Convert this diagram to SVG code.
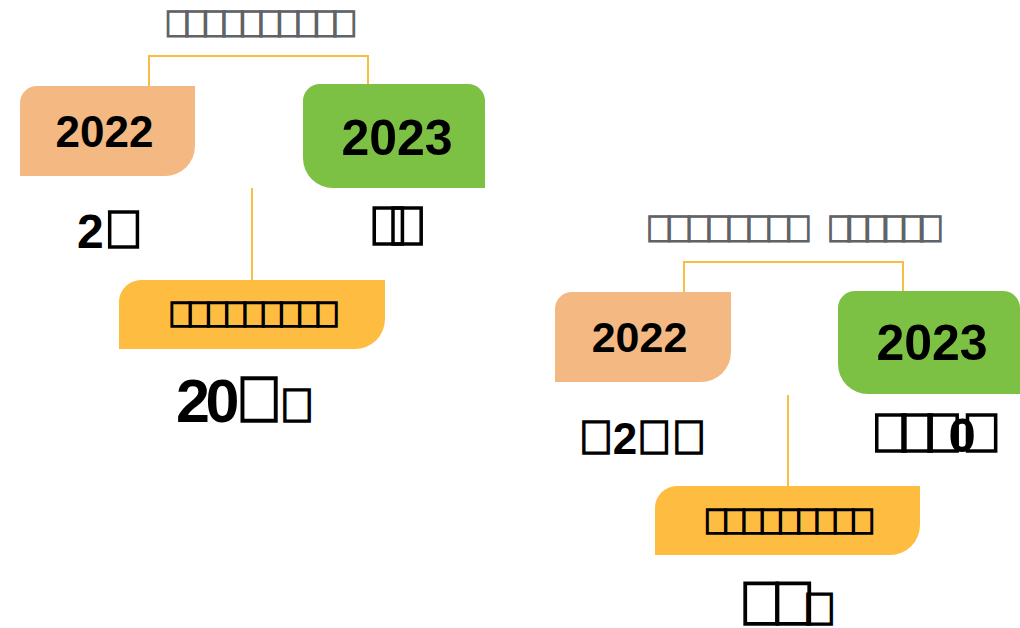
<svg xmlns="http://www.w3.org/2000/svg" width="1020" height="628" viewBox="0 0 1020 628">
<style>
.conn{fill:none;stroke:#FBBC42;stroke-width:2}
.t{font-family:"Liberation Sans",sans-serif;font-weight:bold;text-anchor:middle;fill:#000}
.title{fill:#5F6366;stroke:#5F6366;stroke-width:1.2}
.qb{stroke:#000;stroke-width:1.5}
.peach{fill:#F4B983}
.green{fill:#7CC144}
.yellow{fill:#FEBC40}
</style>
<rect width="1020" height="628" fill="#fff"/>
<g id="connectors">
<path class="conn" d="M149,86 V56 H368 V84"/>
<path class="conn" d="M252,188 V280"/>
<path class="conn" d="M684,292 V262 H903 V291"/>
<path class="conn" d="M788,395 V486"/>
</g>
<g id="title-left"><text class="t title" x="261" y="37" font-size="38" textLength="195">&#x80000;&#x80000;&#x80000;&#x80000;&#x80000;&#x80000;&#x80000;&#x80000;&#x80000;&#x80000;</text></g>
<g id="node-2022-left">
<path class="peach" d="M20,176 V103 A17,17 0 0 1 37,86 H195 V146 A30,30 0 0 1 165,176 Z"/>
<text class="t" x="104.5" y="147" font-size="44">2022</text>
</g>
<g id="node-2023-left">
<path class="green" d="M303,101 A17,17 0 0 1 320,84 H468 A17,17 0 0 1 485,101 V188 H333 A30,30 0 0 1 303,158 Z"/>
<text class="t" x="397" y="155" font-size="50">2023</text>
</g>
<g id="value-2022-left"><text class="t" x="110.5" y="248" font-size="48">2<tspan class="qb" font-size="54">&#x80000;</tspan></text></g>
<g id="value-2023-left"><text class="t qb" x="397.5" y="245" font-size="55" textLength="60">&#x80000;&#x80000;</text></g>
<g id="node-mid-left">
<path class="yellow" d="M119,349 V302 A22,22 0 0 1 141,280 H385 V319 A30,30 0 0 1 355,349 Z"/>
<text class="t qb" x="254" y="327" font-size="36" textLength="173">&#x80000;&#x80000;&#x80000;&#x80000;&#x80000;&#x80000;&#x80000;&#x80000;&#x80000;</text>
</g>
<g id="value-mid-left"><text class="t" x="245.5" y="422" font-size="61" textLength="139">20<tspan class="qb" font-size="65">&#x80000;</tspan><tspan class="qb" font-size="48">&#x80000;</tspan></text></g>
<g id="title-right"><text class="t title" y="242" font-size="38" style="text-anchor:start"><tspan x="645" textLength="168">&#x80000;&#x80000;&#x80000;&#x80000;&#x80000;&#x80000;&#x80000;&#x80000;</tspan><tspan x="826" textLength="119">&#x80000;&#x80000;&#x80000;&#x80000;&#x80000;&#x80000;</tspan></text></g>
<g id="node-2022-right">
<path class="peach" d="M555,382 V309 A17,17 0 0 1 572,292 H731 V352 A30,30 0 0 1 701,382 Z"/>
<text class="t" x="639.5" y="352" font-size="43">2022</text>
</g>
<g id="node-2023-right">
<path class="green" d="M838,308 A17,17 0 0 1 855,291 H1003 A17,17 0 0 1 1020,308 V394 H868 A30,30 0 0 1 838,364 Z"/>
<text class="t" x="932" y="360" font-size="50">2023</text>
</g>
<g id="value-2022-right"><text class="t" x="642.5" y="454" font-size="48" textLength="129"><tspan class="qb">&#x80000;</tspan><tspan font-size="44">2</tspan><tspan class="qb">&#x80000;&#x80000;</tspan></text></g>
<g id="value-2023-right"><text class="t" x="936" y="452" font-size="55" textLength="132"><tspan class="qb">&#x80000;&#x80000;&#x80000;</tspan><tspan font-size="49">0</tspan><tspan class="qb">&#x80000;</tspan></text></g>
<g id="node-mid-right">
<path class="yellow" d="M655,555 V508 A22,22 0 0 1 677,486 H920 V525 A30,30 0 0 1 890,555 Z"/>
<text class="t qb" x="789.5" y="534" font-size="36" textLength="173">&#x80000;&#x80000;&#x80000;&#x80000;&#x80000;&#x80000;&#x80000;&#x80000;&#x80000;</text>
</g>
<g id="value-mid-right"><text class="t qb" x="787.5" y="625" font-size="62" textLength="99">&#x80000;&#x80000;<tspan font-size="46">&#x80000;</tspan></text></g>
</svg>
